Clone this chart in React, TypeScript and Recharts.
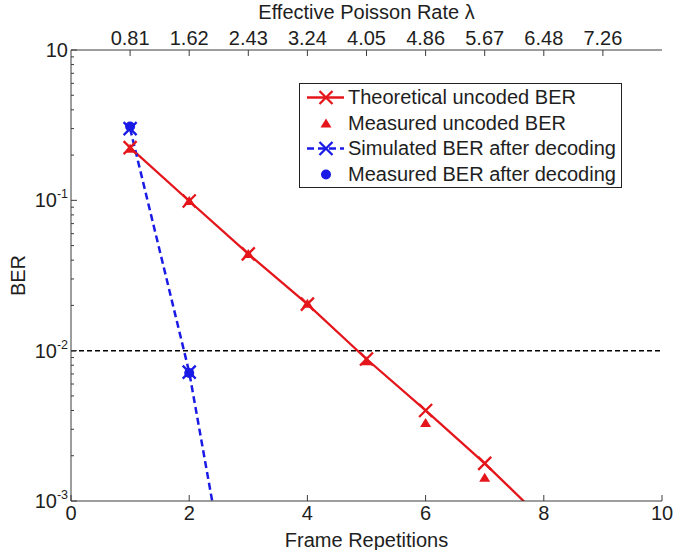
import React from "react";
import { ComposedChart, Line, XAxis, YAxis, ReferenceLine, Legend } from "recharts";

// frame repetitions (x) and BER values
const repetitions = [1, 2, 3, 4, 5, 6, 7, 8];
const theoreticalUncoded = [0.224, 0.099, 0.044, 0.0204, 0.0088, 0.004, 0.00178, 0.00074];
const measuredUncoded = [0.22, 0.099, 0.044, 0.0205, 0.0085, 0.0033, 0.00143, null];
const simulatedDecoded = [0.3, 0.0072, 0.000045, null, null, null, null, null];
const measuredDecoded = [0.31, 0.0071, null, null, null, null, null, null];

const bottomTicks = [0, 2, 4, 6, 8, 10];
const topTicks = [1, 2, 3, 4, 5, 6, 7, 8, 9];
const poissonRates = ["0.81", "1.62", "2.43", "3.24", "4.05", "4.86", "5.67", "6.48", "7.26"];
const decadeTicks = [0.001, 0.01, 0.1, 1];
const decadeExponents = ["-3", "-2", "-1", ""];
const minorSteps = [2, 3, 4, 5, 6, 7, 8, 9];
const threshold = 0.01;

const berTicks = decadeTicks.flatMap((d, i) =>
  i < decadeTicks.length - 1 ? [d, ...minorSteps.map((k) => d * k)] : [d]
);

const data = repetitions.map((x, i) => ({
  x,
  theo: theoreticalUncoded[i],
  meas: measuredUncoded[i],
  sim: simulatedDecoded[i],
  measDec: measuredDecoded[i],
}));

const RED = "#e4161c";
const BLUE = "#1a1ae6";
const AXIS = "#3c3c3c";
const TEXT = "#1e1e1e";
const FONT = "'Liberation Sans', Arial, sans-serif";
const FS = 20;
const Y_MIN = decadeTicks[0];
const Y_DOMAIN = [decadeTicks[0], decadeTicks[decadeTicks.length - 1]];

const XMark = ({ cx, cy, color }: any) => (
  <path
    d={`M${cx - 6.5},${cy - 6.5}L${cx + 6.5},${cy + 6.5}M${cx - 6.5},${cy + 6.5}L${cx + 6.5},${cy - 6.5}`}
    stroke={color}
    strokeWidth={2.3}
    fill="none"
  />
);
const Tri = ({ cx, cy, color }: any) => (
  <path d={`M${cx},${cy - 5}L${cx + 5.5},${cy + 4}L${cx - 5.5},${cy + 4}Z`} fill={color} />
);
const Dot = ({ cx, cy, color }: any) => <circle cx={cx} cy={cy} r={5} fill={color} />;

const inside = (p: any) => p.cy != null && p.value != null && p.value >= Y_MIN;

const xDot = (color: string) => (p: any) =>
  inside(p) ? <XMark key={p.index} cx={p.cx} cy={p.cy} color={color} /> : <g key={p.index} />;
const triDot = (p: any) =>
  inside(p) ? <Tri key={p.index} cx={p.cx} cy={p.cy} color={RED} /> : <g key={p.index} />;
const circDot = (p: any) =>
  inside(p) ? <Dot key={p.index} cx={p.cx} cy={p.cy} color={BLUE} /> : <g key={p.index} />;

const BottomTick = ({ x, y, payload }: any) => (
  <g>
    <line x1={x} x2={x} y1={y} y2={y - 6} stroke={AXIS} />
    <text x={x} y={y + 19} textAnchor="middle" fontSize={FS} fontFamily={FONT} fill={TEXT}>
      {payload.value}
    </text>
  </g>
);

const TopTick = ({ x, y, payload }: any) => (
  <g>
    <line x1={x} x2={x} y1={y} y2={y + 6} stroke={AXIS} />
    <text x={x} y={y - 5} textAnchor="middle" fontSize={FS} fontFamily={FONT} fill={TEXT}>
      {poissonRates[topTicks.indexOf(payload.value)]}
    </text>
  </g>
);

const LeftTick = ({ x, y, payload }: any) => {
  const i = decadeTicks.indexOf(payload.value);
  const major = i >= 0;
  return (
    <g>
      <line x1={x} x2={x + (major ? 6 : 3)} y1={y} y2={y} stroke={AXIS} />
      {major && (
        <text x={x - 3} y={y + 7} textAnchor="end" fontSize={FS} fontFamily={FONT} fill={TEXT}>
          10
          {decadeExponents[i] && (
            <tspan dy={-9} fontSize={12.5}>
              {decadeExponents[i]}
            </tspan>
          )}
        </text>
      )}
    </g>
  );
};

const RightTick = ({ x, y, payload }: any) => {
  const major = decadeTicks.indexOf(payload.value) >= 0;
  return <line x1={x} x2={x - (major ? 6 : 3)} y1={y} y2={y} stroke={AXIS} />;
};

const legendItems = [
  { name: "Theoretical uncoded BER", color: RED, line: "solid", marker: "x" },
  { name: "Measured uncoded BER", color: RED, line: "none", marker: "tri" },
  { name: "Simulated BER after decoding", color: BLUE, line: "dash", marker: "x" },
  { name: "Measured BER after decoding", color: BLUE, line: "none", marker: "dot" },
];

const renderLegend = () => (
  <div
    style={{
      boxSizing: "border-box",
      width: 323,
      height: 105,
      border: "1px solid #222",
      background: "#fff",
      paddingTop: 1,
      fontFamily: FONT,
      fontSize: FS,
      color: TEXT,
    }}
  >
    {legendItems.map((it) => (
      <div key={it.name} style={{ display: "flex", alignItems: "center", height: 25.5 }}>
        <svg width={48} height={25} style={{ flex: "none" }}>
          {it.line !== "none" && (
            <line
              x1={7}
              x2={44}
              y1={12.5}
              y2={12.5}
              stroke={it.color}
              strokeWidth={2.3}
              strokeDasharray={it.line === "dash" ? "7 4" : undefined}
            />
          )}
          {it.marker === "x" && <XMark cx={26} cy={12.5} color={it.color} />}
          {it.marker === "tri" && <Tri cx={26} cy={12.5} color={it.color} />}
          {it.marker === "dot" && <Dot cx={26} cy={12.5} color={it.color} />}
        </svg>
        <span style={{ whiteSpace: "nowrap" }}>{it.name}</span>
      </div>
    ))}
  </div>
);

const berLabel = (p: any) => {
  const vb = p.viewBox;
  const cx = vb.x + 18;
  const cy = vb.y + vb.height / 2;
  return (
    <text
      x={cx}
      y={cy}
      transform={`rotate(-90 ${cx} ${cy})`}
      textAnchor="middle"
      dy={7}
      fontSize={FS}
      fontFamily={FONT}
      fill={TEXT}
    >
      BER
    </text>
  );
};

export default function App() {
  return (
    <div style={{ position: "absolute", left: 0, top: 0, background: "#fff" }}>
      <ComposedChart
        width={673}
        height={550}
        data={data}
        margin={{ top: 0, right: 11, bottom: 0, left: 0 }}
      >
        <XAxis
          dataKey="x"
          type="number"
          domain={[0, 10]}
          ticks={bottomTicks}
          height={49}
          stroke={AXIS}
          tickSize={0}
          tickMargin={0}
          tick={<BottomTick />}
          interval={0}
          label={{
            value: "Frame Repetitions",
            position: "insideBottom",
            offset: 3,
            fontSize: FS,
            fontFamily: FONT,
            fill: TEXT,
          }}
        />
        <XAxis
          xAxisId="top"
          dataKey="x"
          orientation="top"
          type="number"
          domain={[0, 10]}
          ticks={topTicks}
          height={50}
          stroke={AXIS}
          tickSize={0}
          tickMargin={0}
          tick={<TopTick />}
          interval={0}
          label={{
            value: "Effective Poisson Rate \u03bb",
            position: "insideTop",
            offset: 5,
            fontSize: FS,
            fontFamily: FONT,
            fill: TEXT,
          }}
        />
        <YAxis
          scale="log"
          type="number"
          domain={Y_DOMAIN}
          allowDataOverflow
          ticks={berTicks}
          interval={0}
          width={71}
          stroke={AXIS}
          tickSize={0}
          tickMargin={0}
          tick={<LeftTick />}
          label={berLabel}
        />
        <YAxis
          yAxisId="right"
          orientation="right"
          scale="log"
          type="number"
          domain={Y_DOMAIN}
          allowDataOverflow
          ticks={berTicks}
          interval={0}
          width={0}
          stroke={AXIS}
          tickSize={0}
          tickMargin={0}
          tick={<RightTick />}
        />
        <ReferenceLine y={threshold} stroke="#000" strokeWidth={1.5} strokeDasharray="5 3" />
        {/* invisible series so the top / right axes get the same scales */}
        <Line
          xAxisId="top"
          yAxisId="right"
          dataKey="theo"
          stroke="none"
          dot={false}
          activeDot={false}
          legendType="none"
          isAnimationActive={false}
        />
        <Line
          dataKey="theo"
          stroke={RED}
          strokeWidth={2.3}
          dot={xDot(RED)}
          activeDot={false}
          isAnimationActive={false}
        />
        <Line
          dataKey="meas"
          stroke="none"
          dot={triDot}
          activeDot={false}
          isAnimationActive={false}
        />
        <Line
          dataKey="sim"
          stroke={BLUE}
          strokeWidth={2.5}
          strokeDasharray="7 4"
          dot={xDot(BLUE)}
          activeDot={false}
          isAnimationActive={false}
        />
        <Line
          dataKey="measDec"
          stroke="none"
          dot={circDot}
          activeDot={false}
          isAnimationActive={false}
        />
        <Legend
          layout="vertical"
          align="center"
          verticalAlign="middle"
          wrapperStyle={{ left: 299, top: 83, width: 323, height: 105 }}
          content={renderLegend}
        />
      </ComposedChart>
    </div>
  );
}
